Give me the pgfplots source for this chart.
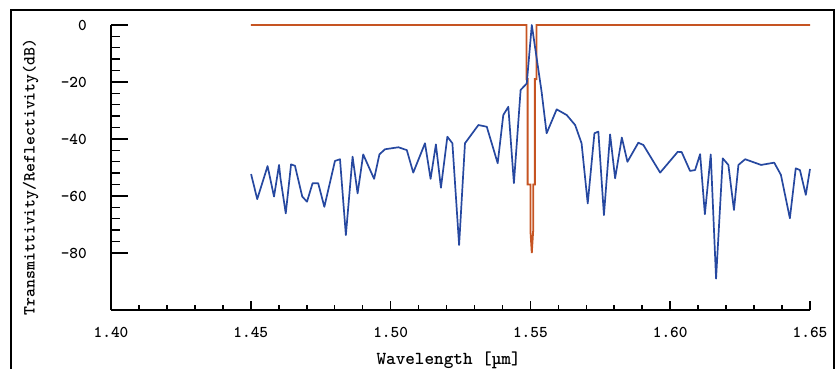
\documentclass[border=0pt]{standalone}
\usepackage{pgfplots}
\pgfplotsset{compat=1.18}
\definecolor{bl}{RGB}{38,72,160}
\definecolor{orng}{RGB}{198,84,34}
\pgfplotstableread{
x y
1.4501 -52.3
1.4523 -61.1
1.4560 -49.5
1.4583 -60.2
1.4601 -49.1
1.4606 -53.7
1.4625 -66.1
1.4644 -48.9
1.4658 -49.4
1.4684 -60.2
1.4701 -62.0
1.4721 -55.5
1.4741 -55.5
1.4763 -63.8
1.4801 -47.7
1.4819 -47.1
1.4840 -73.7
1.4864 -46.2
1.4882 -59.1
1.4902 -45.4
1.4941 -54.0
1.4960 -45.4
1.4980 -43.6
1.5028 -42.9
1.5058 -43.9
1.5081 -51.8
1.5123 -41.5
1.5143 -54.0
1.5162 -41.9
1.5180 -57.1
1.5203 -39.2
1.5221 -41.5
1.5245 -77.2
1.5266 -41.5
1.5314 -35.1
1.5344 -35.7
1.5383 -48.5
1.5403 -31.6
1.5421 -28.7
1.5441 -55.5
1.5465 -22.8
1.5487 -20.5
1.5505 0
1.5540 -23.4
1.5558 -38.0
1.5594 -29.6
1.5630 -31.6
1.5660 -35.1
1.5683 -41.5
1.5705 -62.6
1.5729 -38.0
1.5743 -37.4
1.5763 -66.7
1.5785 -38.4
1.5803 -53.8
1.5827 -39.5
1.5847 -48.0
1.5886 -41.3
1.5904 -42.1
1.5964 -51.8
1.6027 -44.5
1.6041 -44.6
1.6071 -51.2
1.6089 -50.9
1.6107 -45.3
1.6124 -66.4
1.6145 -45.4
1.6164 -89.0
1.6188 -46.8
1.6208 -49.1
1.6228 -64.9
1.6244 -49.1
1.6268 -47.1
1.6325 -49.1
1.6372 -48.3
1.6396 -52.6
1.6428 -67.8
1.6449 -50.3
1.6464 -50.9
1.6485 -59.6
1.6500 -50.5
}\reflect
\pgfplotstableread{
x y
1.4500 0
1.5486 0
1.5486 -19
1.5490 -19
1.5490 -56
1.5500 -56
1.5500 -72
1.5505 -80
1.5510 -72
1.5510 -56
1.5516 -56
1.5516 -19
1.5522 -19
1.5522 0
1.6500 0
}\trans
\begin{document}
\begin{tikzpicture}[x=1pt,y=1pt]
\useasboundingbox (0,0) rectangle (837,369);
\draw[line width=2pt] (11,-5) -- (11,359) -- (834,359) -- (834,-5);
% minor x ticks
\begin{axis}[
 at={(111pt,59pt)}, anchor=south west,
 scale only axis, width=699pt, height=285pt,
 xmin=1.40, xmax=1.65, ymin=-100, ymax=0,
 axis x line*=bottom, axis y line=none,
 axis line style={line width=1.5pt, -},
 tick align=inside,
 xtick={1.41,1.42,1.43,1.44,1.46,1.47,1.48,1.49,1.51,1.52,1.53,1.54,1.56,1.57,1.58,1.59,1.61,1.62,1.63,1.64},
 xticklabels={},
 major tick length=5pt,
 every tick/.style={line width=1.6pt, black},
]
\end{axis}
\begin{axis}[
 at={(111pt,59pt)}, anchor=south west,
 scale only axis, width=699pt, height=285pt,
 xmin=1.40, xmax=1.65, ymin=-100, ymax=0,
 axis x line*=bottom, axis y line*=left,
 axis line style={line width=1.5pt, -},
 tick align=inside,
 xtick={1.40,1.45,1.50,1.55,1.60,1.65},
 xticklabels={1.40,1.45,1.50,1.55,1.60,1.65},
 ytick=\empty,
 major tick length=9pt,
 every tick/.style={line width=1.6pt, black},
 xticklabel style={font=\fontsize{16.5}{19}\selectfont\ttfamily\bfseries, anchor=north, inner sep=0pt, yshift=-17pt},
 xlabel={Wavelength [µm]},
 xlabel style={font=\fontsize{18.3}{21}\selectfont\ttfamily\bfseries, at={(axis description cs:0.483,-0.176)}, anchor=center},
 clip=false,
]
\addplot[orng, line width=1.8pt] table[x=x,y=y] {\trans};
\addplot[bl, line width=1.7pt, line join=round] table[x=x,y=y] {\reflect};
\end{axis}
\begin{axis}[
 at={(111pt,59pt)}, anchor=south west,
 scale only axis, width=699pt, height=285pt,
 xmin=1.40, xmax=1.65, ymin=-100, ymax=0,
 axis x line=none, axis y line*=left,
 axis line style={line width=1.5pt, -},
 tick align=inside,
 ytick={-80,-60,-40,-20,0},
 yticklabels={-80,-60,-40,-20,0},
 minor y tick num=4,
 major tick length=17pt, minor tick length=9pt,
 every tick/.style={line width=1.4pt, black},
 yticklabel style={font=\fontsize{16.5}{19}\selectfont\ttfamily\bfseries, anchor=east, inner sep=2pt, xshift=-22pt},
 ylabel={Transmittivity/Reflectivity(dB)},
 ylabel style={font=\fontsize{17}{20}\selectfont\ttfamily\bfseries, at={(axis description cs:-0.115,0.467)}, anchor=center},
]
\end{axis}
\end{tikzpicture}
\end{document}
